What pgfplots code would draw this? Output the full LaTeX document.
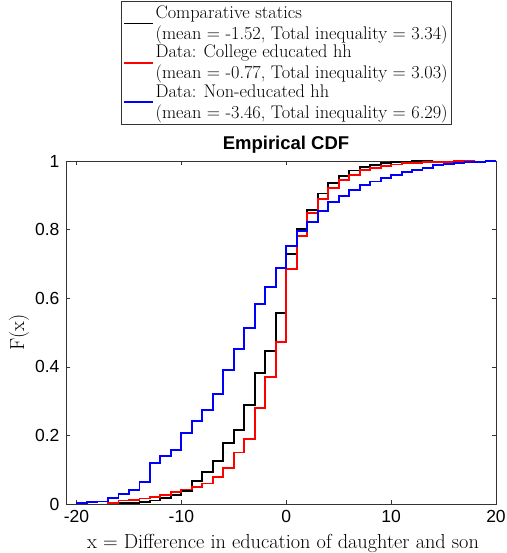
\documentclass[border=0pt]{standalone}
\usepackage{fontspec}
\usepackage{pgfplots}
\pgfplotsset{compat=1.18}
\newfontfamily\hel{Liberation Sans}
\begin{document}
\begin{tikzpicture}
\begin{axis}[name=ax,
  width=430pt, height=343pt, scale only axis,
  xmin=-21, xmax=20, ymin=0, ymax=1,
  xtick={-20,-10,0,10,20}, xticklabels={-20,-10,0,10,20},
  ytick={0,0.2,0.4,0.6,0.8,1}, yticklabels={0,0.2,0.4,0.6,0.8,1},
  tick label style={font=\hel\fontsize{17.5}{17.5}\selectfont},
  xticklabel style={yshift=-3pt},
  yticklabel style={xshift=-3pt},
  tick align=inside, major tick length=4.5pt,
  tick style={black!80, line width=0.5pt},
  axis line style={black!80, line width=0.6pt},
  title={Empirical CDF},
  title style={font=\hel\bfseries\fontsize{18.5}{18.5}\selectfont, anchor=base, yshift=5pt, xshift=5pt},
  xlabel={x = Difference in education of daughter and son},
  ylabel={F(x)},
  label style={font=\fontsize{20.3}{20.3}\selectfont},
  x label style={at={(axis description cs:0.5,0)}, anchor=center, yshift=-39pt, xshift=2pt},
  y label style={at={(axis description cs:-0.109,0.5)}, anchor=center},
  legend cell align=left,
  legend style={font=\fontsize{18.3}{21}\selectfont, at={(axis description cs:0.5,1)}, anchor=south,
    yshift=36pt, xshift=5.5pt, draw=black!80, line width=0.6pt, cells={anchor=west, align=left},
    inner xsep=2pt, inner ysep=3pt, row sep=0pt},
  legend image code/.code={\draw[#1, line width=1.8pt] (0cm,0cm) -- (1.0cm,0cm);},
]
\addplot[black, line width=1.8pt, const plot] coordinates {(-16,0) (-16,0.002) (-15,0.004) (-14,0.006) (-13,0.010) (-12,0.017) (-11,0.026) (-10,0.037) (-9,0.066) (-8,0.094) (-7,0.126) (-6,0.179) (-5,0.215) (-4,0.289) (-3,0.383) (-2,0.447) (-1,0.556) (0,0.729) (1,0.802) (2,0.858) (3,0.905) (4,0.936) (5,0.957) (6,0.972) (7,0.982) (8,0.989) (9,0.994) (10,0.996) (11,0.998) (12,0.999) (13,0.999) (14,1)};
\addlegendentry{Comparative statics\\(mean = -1.52, Total inequality = 3.34)}
\addplot[red, line width=1.8pt, const plot] coordinates {(-17,0) (-17,0.004) (-16,0.010) (-15,0.012) (-14,0.016) (-13,0.021) (-12,0.027) (-11,0.034) (-10,0.042) (-9,0.050) (-8,0.060) (-7,0.078) (-6,0.105) (-5,0.150) (-4,0.189) (-3,0.279) (-2,0.370) (-1,0.472) (0,0.686) (1,0.781) (2,0.848) (3,0.889) (4,0.921) (5,0.945) (6,0.960) (7,0.973) (8,0.980) (9,0.986) (10,0.990) (11,0.993) (12,0.995) (13,0.996) (14,0.997) (15,0.998) (16,0.999) (17,0.999) (18,1)};
\addlegendentry{Data: College educated hh\\(mean = -0.77, Total inequality = 3.03)}
\addplot[blue, line width=1.8pt, const plot] coordinates {(-20,0) (-20,0.003) (-19,0.005) (-18,0.007) (-17,0.017) (-16,0.028) (-15,0.040) (-14,0.064) (-13,0.120) (-12,0.139) (-11,0.158) (-10,0.208) (-9,0.242) (-8,0.275) (-7,0.320) (-6,0.390) (-5,0.451) (-4,0.514) (-3,0.583) (-2,0.632) (-1,0.687) (0,0.752) (1,0.796) (2,0.822) (3,0.854) (4,0.880) (5,0.898) (6,0.916) (7,0.931) (8,0.940) (9,0.950) (10,0.960) (11,0.967) (12,0.973) (13,0.980) (14,0.988) (15,0.992) (16,0.995) (17,0.997) (18,0.998) (19,0.999) (20,1)};
\addlegendentry{Data: Non-educated hh\\(mean = -3.46, Total inequality = 6.29)}
\end{axis}
\pgfresetboundingbox
\path[use as bounding box] ([xshift=-66pt,yshift=-49pt]ax.south west) rectangle ++(506pt,553pt);
\end{tikzpicture}
\end{document}
